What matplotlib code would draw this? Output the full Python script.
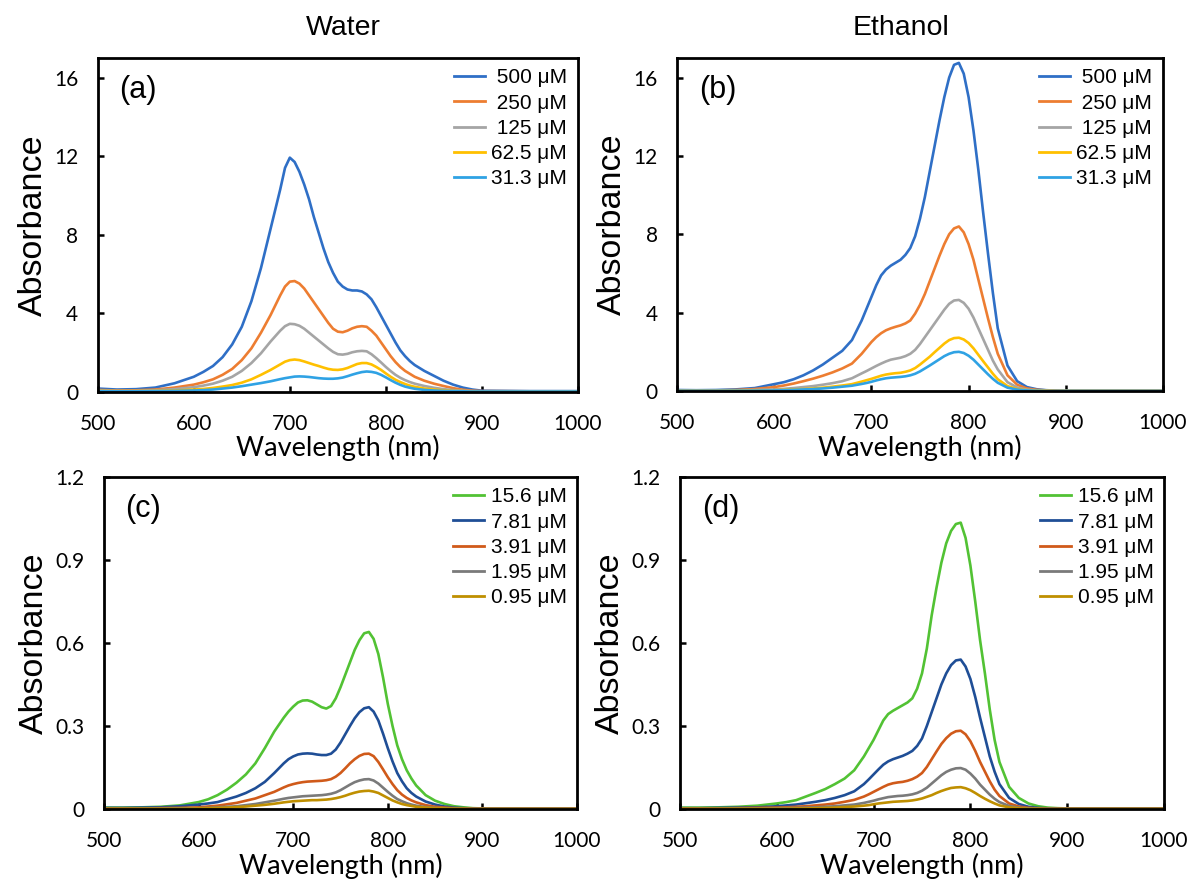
import matplotlib
matplotlib.use("Agg")
import matplotlib.pyplot as plt

# ---------------- data ----------------
wavelength = [500, 520, 540, 560, 580, 600, 610, 620, 630, 640, 650, 660, 670, 680,
              690, 695, 700, 705, 710, 715, 720, 725, 730, 735, 740, 745, 750, 755, 760,
              765, 770, 775, 780, 785, 790, 795, 800, 805, 810, 815, 820, 825, 830,
              840, 850, 860, 870, 880, 890, 900, 950, 1000]

labels_high = [" 500 \u03bcM", " 250 \u03bcM", " 125 \u03bcM", "62.5 \u03bcM", "31.3 \u03bcM"]
labels_low = ["15.6 \u03bcM", "7.81 \u03bcM", "3.91 \u03bcM", "1.95 \u03bcM", "0.95 \u03bcM"]

# (a) water, high concentrations
water_500 = [0.15, 0.10, 0.12, 0.20, 0.42, 0.75, 1.0, 1.3, 1.75, 2.4, 3.3, 4.6, 6.3, 8.3,
             10.3, 11.4, 11.92, 11.7, 11.2, 10.55, 9.8, 8.9, 8.1, 7.3, 6.6, 6.05, 5.6, 5.35, 5.2,
             5.15, 5.15, 5.1, 4.95, 4.7, 4.3, 3.85, 3.4, 2.95, 2.5, 2.1, 1.8, 1.55, 1.35,
             1.05, 0.8, 0.55, 0.35, 0.2, 0.1, 0.04, 0.02, 0.02]
water_250 = [0.08, 0.05, 0.06, 0.1, 0.2, 0.35, 0.47, 0.62, 0.85, 1.15, 1.6, 2.2, 3.0, 3.9,
             4.9, 5.35, 5.6, 5.63, 5.5, 5.25, 4.9, 4.55, 4.2, 3.85, 3.5, 3.2, 3.05, 3.02, 3.1,
             3.22, 3.3, 3.33, 3.3, 3.1, 2.85, 2.5, 2.15, 1.8, 1.5, 1.25, 1.05, 0.9, 0.75,
             0.55, 0.4, 0.28, 0.17, 0.09, 0.04, 0.02, 0.01, 0.01]
water_125 = [0.05, 0.03, 0.03, 0.06, 0.12, 0.22, 0.3, 0.4, 0.55, 0.75, 1.05, 1.45, 1.95, 2.55,
             3.1, 3.33, 3.45, 3.43, 3.35, 3.2, 3.0, 2.8, 2.6, 2.4, 2.2, 2.02, 1.9, 1.88, 1.92,
             2.0, 2.05, 2.07, 2.05, 1.9, 1.7, 1.48, 1.25, 1.04, 0.85, 0.7, 0.58, 0.48, 0.4,
             0.28, 0.19, 0.12, 0.07, 0.04, 0.02, 0.01, 0.0, 0.0]
water_62_5 = [0.03, 0.02, 0.02, 0.03, 0.05, 0.1, 0.13, 0.18, 0.25, 0.33, 0.45, 0.62, 0.85, 1.1,
              1.38, 1.52, 1.6, 1.63, 1.6, 1.53, 1.45, 1.37, 1.3, 1.22, 1.15, 1.11, 1.1, 1.13, 1.2,
              1.3, 1.4, 1.45, 1.45, 1.38, 1.25, 1.1, 0.92, 0.75, 0.6, 0.48, 0.38, 0.3, 0.24,
              0.15, 0.1, 0.06, 0.03, 0.02, 0.01, 0.0, 0.0, 0.0]
water_31_3 = [0.02, 0.01, 0.01, 0.02, 0.03, 0.05, 0.07, 0.1, 0.15, 0.2, 0.27, 0.35, 0.43, 0.52,
              0.63, 0.68, 0.72, 0.76, 0.77, 0.76, 0.74, 0.71, 0.68, 0.66, 0.65, 0.65, 0.67, 0.71, 0.78,
              0.86, 0.93, 0.99, 1.02, 1.0, 0.95, 0.85, 0.72, 0.58, 0.45, 0.34, 0.25, 0.19, 0.14,
              0.08, 0.05, 0.03, 0.02, 0.01, 0.0, 0.0, 0.0, 0.0]

# (b) ethanol, high concentrations
ethanol_500 = [0.05, 0.04, 0.05, 0.08, 0.15, 0.35, 0.45, 0.6, 0.8, 1.05, 1.35, 1.7, 2.05, 2.6,
               3.6, 4.2, 4.8, 5.4, 5.9, 6.2, 6.4, 6.55, 6.7, 6.95, 7.3, 7.9, 8.8, 9.9, 11.2,
               12.5, 13.8, 15.0, 16.0, 16.65, 16.75, 16.2, 15.0, 13.3, 11.3, 9.1, 7.0, 5.0, 3.2,
               1.3, 0.5, 0.2, 0.09, 0.04, 0.02, 0.01, 0.01, 0.01]
ethanol_250 = [0.03, 0.03, 0.03, 0.05, 0.1, 0.2, 0.28, 0.38, 0.5, 0.63, 0.78, 0.95, 1.15, 1.4,
               1.9, 2.2, 2.5, 2.75, 2.95, 3.1, 3.2, 3.28, 3.35, 3.45, 3.6, 3.95, 4.4, 4.95, 5.6,
               6.25, 6.9, 7.5, 8.0, 8.3, 8.4, 8.1, 7.5, 6.7, 5.7, 4.7, 3.7, 2.75, 1.9,
               0.8, 0.32, 0.13, 0.06, 0.03, 0.01, 0.0, 0.0, 0.0]
ethanol_125 = [0.02, 0.02, 0.02, 0.03, 0.05, 0.08, 0.11, 0.15, 0.2, 0.25, 0.32, 0.4, 0.5, 0.65,
               0.9, 1.02, 1.15, 1.28, 1.4, 1.51, 1.6, 1.65, 1.7, 1.78, 1.9, 2.1, 2.4, 2.75, 3.1,
               3.45, 3.8, 4.15, 4.45, 4.62, 4.65, 4.5, 4.2, 3.75, 3.2, 2.65, 2.1, 1.55, 1.1,
               0.45, 0.18, 0.07, 0.03, 0.01, 0.0, 0.0, 0.0, 0.0]
ethanol_62_5 = [0.01, 0.01, 0.01, 0.02, 0.03, 0.04, 0.06, 0.08, 0.1, 0.13, 0.17, 0.22, 0.28, 0.35,
                0.48, 0.55, 0.62, 0.7, 0.78, 0.84, 0.88, 0.91, 0.93, 0.98, 1.05, 1.17, 1.35, 1.55, 1.75,
                1.98, 2.2, 2.42, 2.6, 2.7, 2.72, 2.63, 2.45, 2.18, 1.85, 1.52, 1.2, 0.88, 0.6,
                0.25, 0.1, 0.04, 0.02, 0.01, 0.0, 0.0, 0.0, 0.0]
ethanol_31_3 = [0.01, 0.01, 0.01, 0.01, 0.02, 0.03, 0.045, 0.06, 0.08, 0.1, 0.13, 0.17, 0.22, 0.27,
                0.36, 0.41, 0.47, 0.54, 0.6, 0.65, 0.68, 0.7, 0.72, 0.75, 0.8, 0.88, 1.0, 1.15, 1.3,
                1.46, 1.62, 1.78, 1.9, 1.98, 2.0, 1.94, 1.8, 1.6, 1.35, 1.1, 0.85, 0.62, 0.42,
                0.17, 0.07, 0.03, 0.01, 0.0, 0.0, 0.0, 0.0, 0.0]

# (c) water, low concentrations
water_15_6 = [0.005, 0.005, 0.006, 0.008, 0.013, 0.025, 0.035, 0.05, 0.07, 0.095, 0.125, 0.165, 0.22, 0.28,
              0.33, 0.352, 0.37, 0.385, 0.392, 0.393, 0.388, 0.378, 0.368, 0.363, 0.372, 0.4, 0.44, 0.485, 0.53,
              0.575, 0.61, 0.635, 0.64, 0.615, 0.56, 0.475, 0.38, 0.3, 0.23, 0.18, 0.14, 0.11, 0.085,
              0.05, 0.03, 0.018, 0.01, 0.006, 0.003, 0.002, 0.001, 0.001]
water_7_81 = [0.004, 0.004, 0.005, 0.006, 0.01, 0.016, 0.02, 0.025, 0.035, 0.045, 0.058, 0.075, 0.098, 0.13,
              0.165, 0.18, 0.19, 0.197, 0.2, 0.201, 0.2, 0.197, 0.195, 0.195, 0.2, 0.215, 0.24, 0.27, 0.3,
              0.328, 0.35, 0.364, 0.368, 0.352, 0.32, 0.272, 0.22, 0.172, 0.13, 0.1, 0.075, 0.058, 0.045,
              0.027, 0.016, 0.009, 0.005, 0.003, 0.002, 0.001, 0.001, 0.001]
water_3_91 = [0.002, 0.002, 0.002, 0.003, 0.004, 0.006, 0.009, 0.012, 0.017, 0.022, 0.03, 0.038, 0.05, 0.062,
              0.078, 0.085, 0.09, 0.094, 0.097, 0.099, 0.1, 0.101, 0.102, 0.104, 0.108, 0.117, 0.13, 0.147, 0.165,
              0.18, 0.192, 0.199, 0.2, 0.191, 0.17, 0.143, 0.115, 0.09, 0.068, 0.052, 0.04, 0.031, 0.024,
              0.014, 0.008, 0.005, 0.003, 0.002, 0.001, 0.001, 0.001, 0.001]
water_1_95 = [0.001, 0.001, 0.001, 0.001, 0.002, 0.003, 0.004, 0.006, 0.008, 0.01, 0.014, 0.018, 0.024, 0.03,
              0.037, 0.04, 0.042, 0.044, 0.046, 0.047, 0.048, 0.049, 0.05, 0.052, 0.055, 0.06, 0.068, 0.078, 0.088,
              0.097, 0.103, 0.107, 0.108, 0.103, 0.092, 0.077, 0.062, 0.048, 0.036, 0.028, 0.021, 0.016, 0.012,
              0.007, 0.004, 0.002, 0.001, 0.001, 0.0, 0.0, 0.0, 0.0]
water_0_95 = [0.001, 0.001, 0.001, 0.001, 0.001, 0.002, 0.003, 0.004, 0.005, 0.007, 0.009, 0.012, 0.015, 0.019,
              0.024, 0.026, 0.028, 0.029, 0.03, 0.031, 0.032, 0.032, 0.033, 0.034, 0.036, 0.039, 0.043, 0.048, 0.054,
              0.059, 0.063, 0.065, 0.066, 0.063, 0.058, 0.049, 0.04, 0.031, 0.024, 0.018, 0.014, 0.011, 0.008,
              0.005, 0.003, 0.002, 0.001, 0.001, 0.0, 0.0, 0.0, 0.0]

# (d) ethanol, low concentrations
ethanol_15_6 = [0.005, 0.005, 0.006, 0.008, 0.012, 0.02, 0.025, 0.032, 0.045, 0.058, 0.072, 0.09, 0.11, 0.14,
                0.19, 0.22, 0.25, 0.285, 0.32, 0.343, 0.355, 0.365, 0.375, 0.385, 0.4, 0.435, 0.49, 0.58, 0.7,
                0.8, 0.89, 0.96, 1.005, 1.03, 1.035, 0.98, 0.88, 0.75, 0.61, 0.49, 0.36, 0.25, 0.17,
                0.08, 0.04, 0.02, 0.01, 0.005, 0.003, 0.002, 0.002, 0.002]
ethanol_7_81 = [0.003, 0.003, 0.004, 0.005, 0.006, 0.01, 0.013, 0.016, 0.021, 0.026, 0.032, 0.04, 0.05, 0.064,
                0.09, 0.107, 0.125, 0.143, 0.16, 0.172, 0.18, 0.186, 0.192, 0.2, 0.21, 0.228, 0.255, 0.3, 0.35,
                0.4, 0.45, 0.49, 0.52, 0.537, 0.54, 0.515, 0.47, 0.405, 0.33, 0.26, 0.19, 0.135, 0.09,
                0.04, 0.018, 0.008, 0.004, 0.002, 0.001, 0.001, 0.001, 0.001]
ethanol_3_91 = [0.002, 0.002, 0.002, 0.003, 0.004, 0.005, 0.006, 0.008, 0.01, 0.013, 0.016, 0.02, 0.026, 0.033,
                0.045, 0.053, 0.062, 0.071, 0.08, 0.088, 0.093, 0.096, 0.098, 0.102, 0.108, 0.117, 0.13, 0.152, 0.18,
                0.208, 0.235, 0.256, 0.272, 0.281, 0.283, 0.27, 0.245, 0.21, 0.17, 0.135, 0.1, 0.07, 0.047,
                0.02, 0.009, 0.004, 0.002, 0.001, 0.001, 0.001, 0.001, 0.001]
ethanol_1_95 = [0.001, 0.001, 0.001, 0.001, 0.001, 0.002, 0.003, 0.004, 0.005, 0.006, 0.008, 0.01, 0.013, 0.016,
                0.022, 0.026, 0.03, 0.035, 0.039, 0.043, 0.045, 0.047, 0.048, 0.05, 0.053, 0.058, 0.066, 0.077, 0.092,
                0.107, 0.122, 0.134, 0.142, 0.147, 0.148, 0.142, 0.128, 0.11, 0.088, 0.07, 0.052, 0.037, 0.025,
                0.011, 0.005, 0.002, 0.001, 0.001, 0.0, 0.0, 0.0, 0.0]
ethanol_0_95 = [0.001, 0.001, 0.001, 0.001, 0.001, 0.001, 0.001, 0.002, 0.002, 0.003, 0.004, 0.005, 0.007, 0.009,
                0.012, 0.014, 0.017, 0.02, 0.022, 0.024, 0.026, 0.027, 0.028, 0.029, 0.031, 0.034, 0.038, 0.044, 0.05,
                0.058, 0.065, 0.071, 0.076, 0.078, 0.079, 0.075, 0.068, 0.058, 0.047, 0.037, 0.028, 0.02, 0.013,
                0.006, 0.003, 0.001, 0.001, 0.0, 0.0, 0.0, 0.0, 0.0]

colors_high = ["#2F6FC6", "#ED7D31", "#A5A5A5", "#FFC000", "#2FA2E4"]
colors_low = ["#52C234", "#1F4E96", "#D05A1A", "#7A7A7A", "#BF8F00"]

x_ticks = [500, 600, 700, 800, 900, 1000]
y_ticks_high = [0, 4, 8, 12, 16]
y_ticks_high_labels = ["0", "4", "8", "12", "16"]
y_ticks_low = [0, 0.3, 0.6, 0.9, 1.2]
y_ticks_low_labels = ["0", "0.3", "0.6", "0.9", "1.2"]

# ---------------- figure ----------------
W, H = 1189, 882
fig = plt.figure(figsize=(W / 100, H / 100), dpi=100)

def rect(l, r, t, b):
    return [l / W, 1 - b / H, (r - l) / W, (b - t) / H]

panels = [
    dict(rect=rect(97.7, 578, 58, 391.5), series=[water_500, water_250, water_125, water_62_5, water_31_3],
         labels=labels_high, colors=colors_high, ylim=17, yt=y_ticks_high, ytl=y_ticks_high_labels, tag="(a)"),
    dict(rect=rect(677, 1163, 58, 391), series=[ethanol_500, ethanol_250, ethanol_125, ethanol_62_5, ethanol_31_3],
         labels=labels_high, colors=colors_high, ylim=17, yt=y_ticks_high, ytl=y_ticks_high_labels, tag="(b)"),
    dict(rect=rect(104, 577, 477, 809), series=[water_15_6, water_7_81, water_3_91, water_1_95, water_0_95],
         labels=labels_low, colors=colors_low, ylim=1.2, yt=y_ticks_low, ytl=y_ticks_low_labels, tag="(c)"),
    dict(rect=rect(680, 1164, 477, 809), series=[ethanol_15_6, ethanol_7_81, ethanol_3_91, ethanol_1_95, ethanol_0_95],
         labels=labels_low, colors=colors_low, ylim=1.2, yt=y_ticks_low, ytl=y_ticks_low_labels, tag="(d)"),
]

tick_font = "Lato"
arial = "Liberation Sans"

for p in panels:
    ax = fig.add_axes(p["rect"])
    for ys, lab, col in zip(p["series"], p["labels"], p["colors"]):
        ax.plot(wavelength, ys, color=col, lw=1.9, label=lab, solid_joinstyle="round")
    ax.set_xlim(500, 1000)
    ax.set_ylim(0, p["ylim"])
    ax.set_xticks(x_ticks)
    ax.set_xticklabels([str(t) for t in x_ticks], fontfamily=tick_font, fontsize=15)
    ax.set_yticks(p["yt"])
    ax.set_yticklabels(p["ytl"], fontfamily=tick_font, fontsize=15)
    ax.tick_params(axis="x", direction="in", length=4.5, width=1.8, pad=16, colors="black")
    ax.tick_params(axis="y", direction="in", length=4.5, width=1.8, pad=14, colors="black")
    for s in ax.spines.values():
        s.set_linewidth(2.0)
        s.set_color("black")
    ax.set_xlabel("Wavelength (nm)", fontfamily=tick_font, fontsize=19.5, labelpad=1)
    ax.set_ylabel("Absorbance", fontfamily=arial, fontsize=24.5, labelpad=4)
    ax.text(0.045, 0.905, p["tag"], transform=ax.transAxes, fontfamily=arial, fontsize=22,
            ha="left", va="center")
    leg = ax.legend(loc="upper right", bbox_to_anchor=(1.0, 1.0), frameon=False,
                    prop={"family": arial, "size": 15}, handlelength=1.5,
                    handletextpad=0.3, labelspacing=0.3, borderpad=0.3, borderaxespad=0.2)
    for line in leg.get_lines():
        line.set_linewidth(2.0)

fig.text(343 / W, 1 - 28 / H, "Water", fontfamily=arial, fontsize=20.5, ha="center", va="center")
fig.text(901 / W, 1 - 28 / H, "Ethanol", fontfamily=arial, fontsize=20.5, ha="center", va="center")

fig.savefig("out.png", dpi=100)
